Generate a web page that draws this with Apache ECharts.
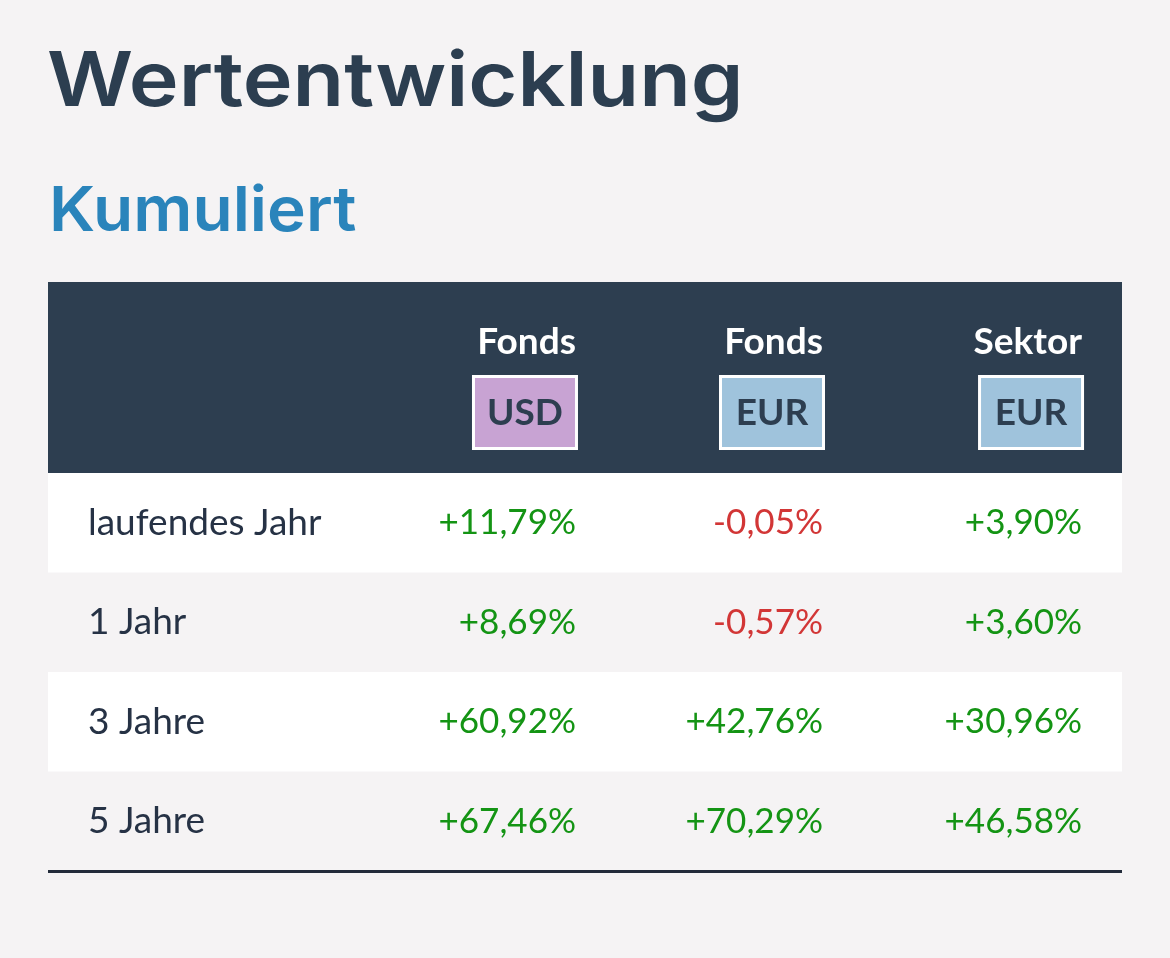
<!DOCTYPE html>
<html>
<head>
<meta charset="utf-8">
<script src="https://cdn.jsdelivr.net/npm/echarts@6/dist/echarts.min.js"></script>
<style>
    html, body { margin: 0; padding: 0; background: #f5f3f4; }
    #main { width: 1170px; height: 958px; }
</style>
</head>
<body>
<div id="main"></div>
<script>
// Daten
var zeitraum = ['laufendes Jahr', '1 Jahr', '3 Jahre', '5 Jahre'];
var spalten = ['Fonds', 'Fonds', 'Sektor'];
var waehrung = ['USD', 'EUR', 'EUR'];
var fondsUsd = [11.79, 8.69, 60.92, 67.46];
var fondsEur = [-0.05, -0.57, 42.76, 70.29];
var sektorEur = [3.90, 3.60, 30.96, 46.58];

// Layout
var tabLinks = 48, tabBreite = 1074;
var spaltenRechts = [0.4916, 0.7216, 0.9628]; // rechte Kante je Spalte (Anteil der Tabellenbreite)
var badgeFarbe = ['#c8a3d3', '#9fc3dc', '#9fc3dc'];
var dunkel = '#2d3e50';
var gruen = '#149414';
var rot = '#d23636';
var schrift = 'Lato, "Noto Sans", sans-serif';
var titelSchrift = 'Inter, "Noto Sans", sans-serif';

function fmt(v) {
    return (v >= 0 ? '+' : '-') + Math.abs(v).toFixed(2).replace('.', ',') + '%';
}

var werte = [fondsUsd, fondsEur, sektorEur];
var zellen = [];
werte.forEach(function (reihe, j) {
    reihe.forEach(function (v, i) {
        zellen.push([spaltenRechts[j], i, v]);
    });
});
var zeilen = zeitraum.map(function (name, i) { return [0, i, name]; });

var myChart = echarts.init(document.getElementById('main'));

// Überschriften (etwas breiter gezogen, Montserrat fehlt)
var kopf = [
    {
        type: 'text',
        x: 47, y: 83, scaleX: 1.11,
        style: {
            text: 'Wertentwicklung', align: 'left', verticalAlign: 'middle',
            fill: '#2c3e50', font: '600 76px ' + titelSchrift
        }
    },
    {
        type: 'text',
        x: 49, y: 212, scaleX: 1.06,
        style: {
            text: 'Kumuliert', align: 'left', verticalAlign: 'middle',
            fill: '#2a84bb', font: '600 62px ' + titelSchrift
        }
    },
    {
        type: 'rect',
        shape: {x: tabLinks, y: 282, width: tabBreite, height: 191},
        style: {fill: dunkel}
    }
];
spalten.forEach(function (name, j) {
    var r = tabLinks + spaltenRechts[j] * tabBreite;
    kopf.push({
        type: 'text',
        x: r, y: 342,
        style: {
            text: name, align: 'right', verticalAlign: 'middle',
            fill: '#fff', font: 'bold 37px ' + schrift
        }
    });
    kopf.push({
        type: 'rect',
        shape: {x: r - 102.5, y: 376.5, width: 103, height: 72},
        style: {fill: badgeFarbe[j], stroke: '#fff', lineWidth: 3}
    });
    kopf.push({
        type: 'text',
        x: r - 51, y: 413,
        style: {
            text: waehrung[j], align: 'center', verticalAlign: 'middle',
            fill: dunkel, font: 'bold 37px ' + schrift
        }
    });
});

option = {
    backgroundColor: '#f5f3f4',
    animation: false,
    grid: {
        left: tabLinks,
        top: 473,
        width: tabBreite,
        height: 398
    },
    xAxis: {
        type: 'value',
        min: 0,
        max: 1,
        axisLine: {show: true, onZero: false, lineStyle: {color: '#232b3a', width: 3, cap: 'butt'}},
        axisTick: {show: false},
        axisLabel: {show: false},
        splitLine: {show: false}
    },
    yAxis: {
        type: 'category',
        inverse: true,
        data: zeitraum,
        axisLine: {show: false},
        axisTick: {show: false},
        axisLabel: {show: false},
        splitLine: {show: false}
    },
    graphic: kopf,
    series: [
        {
            // Zeilenhintergrund und Beschriftung
            type: 'custom',
            data: zeilen,
            z: 1,
            renderItem: function (params, api) {
                var p = api.coord([0, api.value(1)]);
                var h = api.size([0, 1])[1];
                var cs = params.coordSys;
                return {
                    type: 'group',
                    children: [
                        {
                            type: 'rect',
                            shape: {x: cs.x, y: p[1] - h / 2, width: cs.width, height: h},
                            style: {fill: params.dataIndex % 2 === 0 ? '#ffffff' : 'rgba(0,0,0,0)'}
                        },
                        {
                            type: 'text',
                            x: cs.x + 40, y: p[1],
                            style: {
                                text: zeitraum[params.dataIndex], align: 'left', verticalAlign: 'middle',
                                fill: '#263245', font: '37px ' + schrift
                            }
                        }
                    ]
                };
            }
        },
        {
            // Wertzellen
            type: 'custom',
            data: zellen,
            z: 2,
            renderItem: function (params, api) {
                var v = api.value(2);
                var p = api.coord([api.value(0), api.value(1)]);
                return {
                    type: 'text',
                    x: p[0], y: p[1],
                    style: {
                        text: fmt(v), align: 'right', verticalAlign: 'middle',
                        fill: v >= 0 ? gruen : rot, font: '35px ' + schrift
                    }
                };
            }
        }
    ]
};

myChart.setOption(option);
</script>
</body>
</html>
